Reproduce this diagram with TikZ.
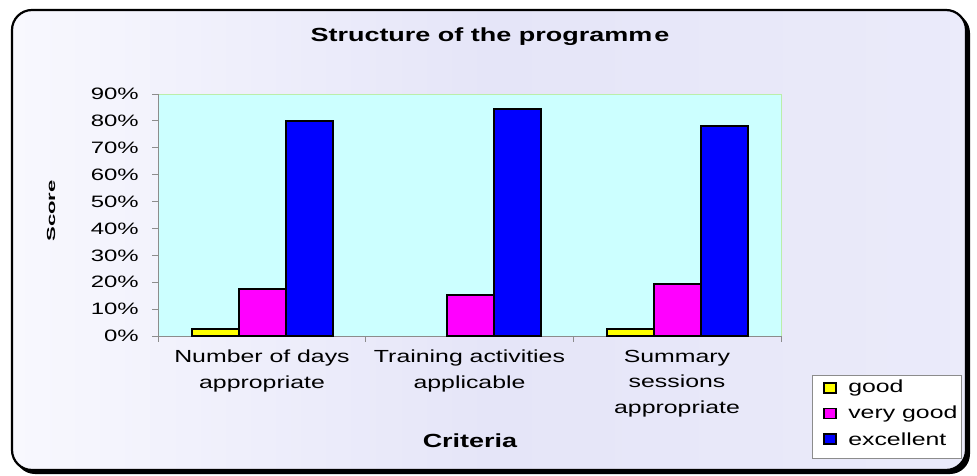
\documentclass[tikz,border=0pt]{standalone}
\usepackage{fontspec}
\setmainfont{Liberation Sans}
\definecolor{plotbg}{HTML}{CCFFFF}
\definecolor{plotedge}{HTML}{BBEEAA}
\definecolor{axisgrey}{HTML}{8C8C8C}
\definecolor{bgin}{HTML}{E5E5F8}
\definecolor{bgout}{HTML}{F8F8FE}
\definecolor{cgood}{HTML}{FFFF00}
\definecolor{cvgood}{HTML}{FF00FF}
\definecolor{cexc}{HTML}{0000FF}
\begin{document}
\begin{tikzpicture}[x=1pt,y=-1pt,
  ticklab/.style={anchor=east,inner sep=0pt,xscale=1.45,font=\fontsize{16.5}{19}\selectfont},
  catlab/.style={anchor=north,inner sep=0pt,align=center,xscale=1.42,font=\fontsize{17.5}{25.5}\selectfont},
  boldlab/.style={inner sep=0pt,xscale=1.42,font=\fontsize{19}{22}\selectfont\bfseries},
  barbox/.style={draw=black,line width=2pt},
  leglab/.style={anchor=west,inner sep=0pt,xscale=1.42,font=\fontsize{17.5}{20}\selectfont},
  legsq/.style={draw=black,line width=1.3pt,minimum width=12pt,minimum height=10pt,inner sep=0pt}]
\useasboundingbox (0,0) rectangle (977,476);
% frame with shadow
\fill[black, rounded corners=20pt] (15,13) rectangle (970,474);
\shade[left color=bgout, right color=bgin!70!bgout, middle color=bgin, rounded corners=20pt] (12,10) rectangle (966,470);
\draw[black, line width=2.2pt, rounded corners=20pt] (12,10) rectangle (966,470);
% title
\node[boldlab] (title) at (490,37) {Structure of the programm\hspace{1.5pt}e};
% plot area
\fill[plotbg] (158,94) rectangle (781,336);
\draw[plotedge, line width=0.8pt] (158,94) -- (781,94) -- (781,336);
% y axis
\draw[axisgrey, line width=0.8pt] (158,94) -- (158,336);
\foreach \v/\lab in {0/0,1/10,2/20,3/30,4/40,5/50,6/60,7/70,8/80,9/90} {
  \pgfmathsetmacro{\yy}{336-\v*26.889}
  \draw[axisgrey, line width=0.8pt] (152,\yy) -- (158,\yy);
  \node[ticklab] (t\v) at (139,\yy) {\lab\%};
}
% x axis
\draw[axisgrey, line width=0.8pt] (158,336) -- (781,336);
\foreach \xx in {158,365.7,573.3,781} {
  \draw[axisgrey, line width=0.8pt] (\xx,336) -- (\xx,342);
}
% bars
\newcommand{\mybar}[4]{% x0, width, value, colour
  \pgfmathsetmacro{\ytop}{336-#3*2.6889}
  \pgfmathsetmacro{\xend}{#1+#2}
  \filldraw[barbox, fill=#4] (#1,336) rectangle (\xend,\ytop);
}
\mybar{192}{47}{2.5}{cgood}
\mybar{239}{47}{17.5}{cvgood}
\mybar{286}{47}{80}{cexc}
\mybar{447}{47}{15.4}{cvgood}
\mybar{494}{47}{84.6}{cexc}
\mybar{607}{47}{2.5}{cgood}
\mybar{654}{47}{19.5}{cvgood}
\mybar{701}{47}{78}{cexc}
% category labels
\node[catlab] (c1) at (262,350) {Number of days\\appropriate};
\node[catlab] (c2) at (469.5,350) {Training activities\\applicable};
\node[catlab] (c3) at (677,350) {Summary\\sessions\\appropriate};
% axis titles
\node[boldlab] (xt) at (470,441) {Criteria};
\node[inner sep=0pt] (yt) at (51,211) {\rotatebox{90}{\scalebox{1.7}[0.9]{\fontsize{13}{15}\selectfont\bfseries Score}}};
% legend
\draw[fill=white, draw=axisgrey, line width=0.6pt] (812,375) rectangle (961,458);
\node[legsq, fill=cgood] (s1) at (830,388) {};
\node[legsq, fill=cvgood] (s2) at (830,413.5) {};
\node[legsq, fill=cexc] (s3) at (830,439) {};
\node[leglab] (l1) at (848,388) {good};
\node[leglab] (l2) at (848,413.5) {very good};
\node[leglab] (l3) at (848,439) {excellent};
\end{tikzpicture}
\end{document}
